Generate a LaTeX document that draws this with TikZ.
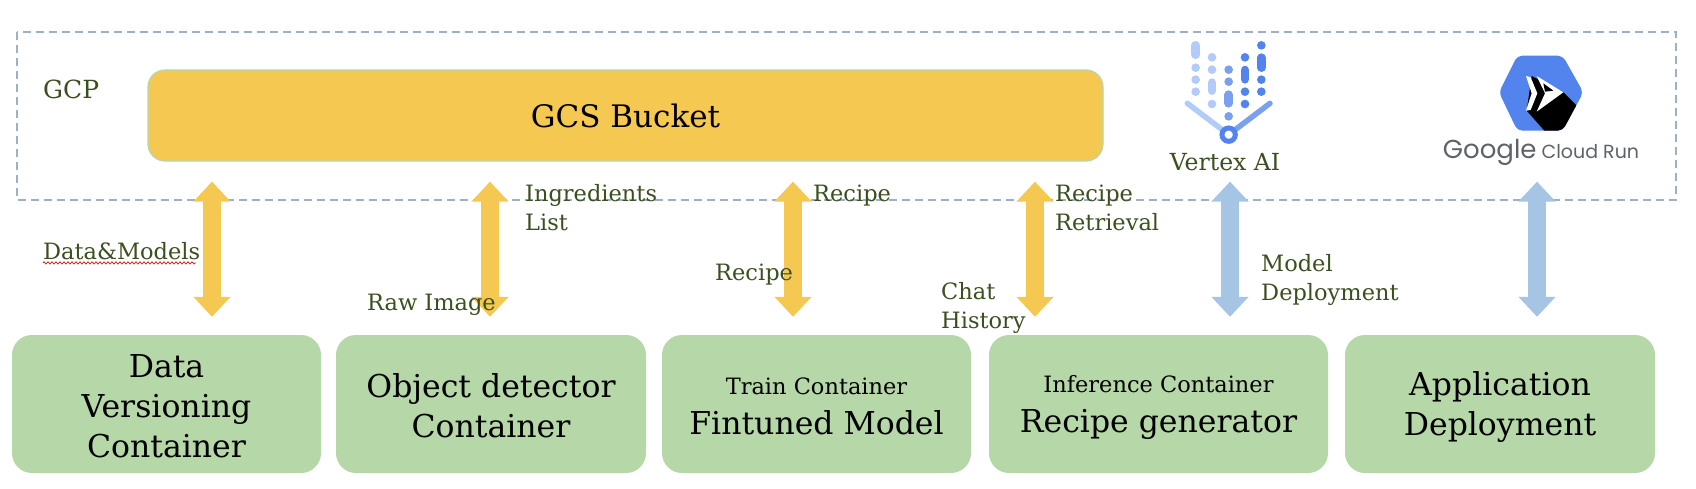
\documentclass[tikz,border=0pt]{standalone}
\usepackage{fontspec}
\setmainfont{DejaVu Serif}
\newfontfamily\logofont{Poppins}
\usetikzlibrary{positioning}
\usetikzlibrary{arrows.meta}
\usetikzlibrary{decorations.pathmorphing}
\definecolor{bucketcol}{HTML}{F5C951}
\definecolor{boxcol}{HTML}{B6D7A8}
\definecolor{bluecol}{HTML}{A6C4E3}
\definecolor{dashcol}{HTML}{9DB0C4}
\definecolor{labelcol}{HTML}{3A5020}
\definecolor{vlight}{HTML}{B3CBF8}
\definecolor{vmid}{HTML}{7BA0F0}
\definecolor{vdark}{HTML}{5383EC}
\definecolor{logogray}{HTML}{5F6368}
\tikzset{
cbox/.style={fill=boxcol,rounded corners=20pt,minimum height=138pt,align=center,inner sep=0pt,font=\fontsize{31.5}{40}\selectfont},
lbl/.style={text=labelcol,anchor=west,align=left,inner sep=0pt,font=\fontsize{22.5}{29}\selectfont},
ydbl/.style={draw=bucketcol,line width=18pt,{Triangle[length=20pt,width=36pt]}-{Triangle[length=20pt,width=36pt]}},
bdbl/.style={ydbl,draw=bluecol},
dotl/.style={line width=8.6pt,line cap=round},
}
\begin{document}
\begin{tikzpicture}[x=1pt,y=-1pt]
\useasboundingbox (0,0) rectangle (1696,488);
\fill[white] (0,0) rectangle (1696,488);
\draw[dashcol,line width=1.5pt,dash pattern=on 8pt off 5pt] (17,32) rectangle (1676,200);
\node[lbl,font=\fontsize{25}{30}\selectfont] (gcp) at (43,89) {GCP};
\node[fill=bucketcol,draw=boxcol,line width=1.2pt,rounded corners=17pt,minimum width=955pt,minimum height=91pt,font=\fontsize{31}{36}\selectfont] (gcs) at (625.5,115.5) {GCS Bucket};
% containers
\node[cbox,minimum width=309pt] (data) at (166.5,404) {\rule{0pt}{28pt}Data\\Versioning\\Container};
\node[cbox,minimum width=310pt] (object) at (491,404) {\rule{0pt}{28pt}Object detector\\Container};
\node[cbox,minimum width=309pt] (train) at (816.5,404) {{\fontsize{22.5}{28}\selectfont\rule{0pt}{21pt}Train Container}\\Fintuned Model};
\node[cbox,minimum width=339pt] (inference) at (1158.5,404) {{\fontsize{22.5}{28}\selectfont\rule{0pt}{23pt}Inference Container}\\Recipe generator};
\node[cbox,minimum width=310pt] (deploy) at (1500,404) {\rule{0pt}{30pt}Application\\Deployment};
% logos
\begin{scope}[shift={(1050,20)},x=0.3333pt,y=-0.3333pt]
\draw[dotl,vlight] (437,76) -- (437,104);
\foreach \yy in {143,179,215} \fill[vlight] (437,\yy) circle (13);
\foreach \yy in {112,149,252} \fill[vlight] (486,\yy) circle (13);
\draw[dotl,vlight] (486,188) -- (486,212);
\foreach \yy in {149,185,289} \fill[vmid] (536,\yy) circle (13);
\draw[dotl,vmid] (536,224) -- (536,250);
\foreach \yy in {112,215,252} \fill[vdark] (585,\yy) circle (13);
\draw[dotl,vdark] (585,150) -- (585,178);
\foreach \yy in {76,179,215} \fill[vdark] (634,\yy) circle (13);
\draw[dotl,vdark] (634,113) -- (634,143);
\draw[line width=5.5pt,line cap=round,vlight] (412,250) -- (536,344);
\draw[line width=5.5pt,line cap=round,vmid] (660,250) -- (536,344);
\draw[line width=5pt,vdark,fill=white] (536,344) circle (20);
\end{scope}
\node[text=labelcol,inner sep=0pt,font=\fontsize{23.5}{28}\selectfont] (vertex) at (1225,162) {Vertex AI};
\begin{scope}[shift={(1430,40)},x=0.3333pt,y=-0.3333pt]
\fill[vdark,rounded corners=5pt] (207,157) -- (262,47) -- (398,47) -- (460,157) -- (398,272) -- (262,272) -- cycle;
\begin{scope}
\clip[rounded corners=5pt] (207,157) -- (262,47) -- (398,47) -- (460,157) -- (398,272) -- (262,272) -- cycle;
\fill[black] (290,212) -- (305,108) -- (400,157) -- (440,197) -- (400,280) -- (350,280) -- cycle;
\end{scope}
\fill[white] (288,108) -- (302,112) -- (322,160) -- (302,210) -- (288,212) -- (305,160) -- cycle;
\fill[white] (320,108) -- (400,157) -- (320,215) -- (345,160) -- cycle;
\fill[black] (340,130) -- (370,152) -- (345,155) -- cycle;
\end{scope}
\node[text=logogray,inner sep=0pt,font=\logofont\fontsize{19}{26}\selectfont] (cloudrun) at (1541,152) {{\fontsize{26}{26}\selectfont Google} Cloud Run};
% arrows
\coordinate (a1) at (212,250);
\coordinate (a2) at (490,250);
\coordinate (a3) at (793,250);
\coordinate (a4) at (1035,250);
\coordinate (a5) at (1230,250);
\coordinate (a6) at (1537,250);
\draw[ydbl,shorten <=20pt,shorten >=18pt] (gcs.south -| a1) -- (data.north -| a1);
\draw[ydbl,shorten <=20pt,shorten >=18pt] (gcs.south -| a2) -- (object.north -| a2);
\draw[ydbl,shorten <=20pt,shorten >=18pt] (gcs.south -| a3) -- (train.north -| a3);
\draw[ydbl,shorten <=20pt,shorten >=18pt] (gcs.south -| a4) -- (inference.north -| a4);
\draw[bdbl,shorten <=20pt,shorten >=18pt] (gcs.south -| a5) -- (inference.north -| a5);
\draw[bdbl,shorten <=20pt,shorten >=18pt] (gcs.south -| a6) -- (deploy.north -| a6);
% labels
\node[lbl] (datamodels) at (43,251) {Data\&Models};
\draw[red!80!black,line width=0.6pt,decorate,decoration={zigzag,amplitude=1.2pt,segment length=4pt}] (datamodels.south west)++(0,3) -- ++(153,0);
\node[lbl] (ingredients) at (525,208) {Ingredients\\List};
\node[lbl] (recipeup) at (813,196) {Recipe};
\node[lbl] (recipedown) at (715,275) {Recipe};
\node[lbl] (rawimage) at (367,305) {Raw Image};
\node[lbl] (chat) at (941,308) {Chat\\History};
\node[lbl] (retrieval) at (1055,208) {Recipe\\Retrieval};
\node[lbl] (modeldep) at (1261,280) {Model\\Deployment};
\end{tikzpicture}
\end{document}
